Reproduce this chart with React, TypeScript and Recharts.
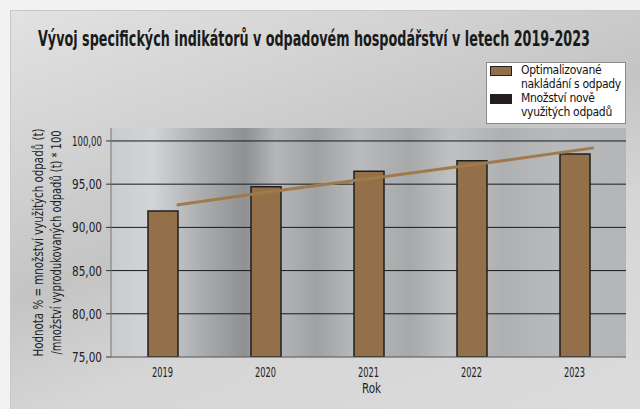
import React from 'react';
import { ComposedChart, Bar, Line, XAxis, YAxis, CartesianGrid } from 'recharts';

const years = ['2019', '2020', '2021', '2022', '2023'];
const optimizedValues = [91.9, 94.7, 96.5, 97.7, 98.5];
const trendValues = [92.6, 94.3, 95.9, 97.5, 99.2];
const yTicks = [75, 80, 85, 90, 95, 100];
const seriesNames = ['Optimalizované nakládání s odpady', 'Množství nově využitých odpadů'];
const legendLines = [['Optimalizované', 'nakládání s odpady'], ['Množství nově', 'využitých odpadů']];
const titleText = 'Vývoj specifických indikátorů v odpadovém hospodářství v letech 2019-2023';
const yLabelLines = ['Hodnota % = množství využitých odpadů (t)', '/množství vyprodukovaných odpadů  (t) * 100'];
const xLabelText = 'Rok';

const data = years.map((y, i) => ({
  year: y,
  idx: i,
  optimized: optimizedValues[i],
  trend: trendValues[i],
}));

const FONT = '"Liberation Sans Narrow", "DejaVu Sans Condensed", "Roboto Condensed", "Arial Narrow", sans-serif';

const fmt = (v: number) => v.toFixed(2).replace('.', ',');

const LegendBox = () => (
  <div
    style={{
      position: 'absolute',
      left: 486,
      top: 62,
      width: 140,
      height: 62,
      background: '#ffffff',
      border: '1px solid #8a8a8a',
      boxSizing: 'border-box',
      fontFamily: FONT,
      fontSize: 12,
      color: '#111',
      lineHeight: '14px',
    }}
  >
    <div style={{ position: 'absolute', left: 3, top: 3, width: 22, height: 10, background: '#94704a', border: '1px solid #222', boxSizing: 'border-box' }} />
    <div style={{ position: 'absolute', left: 3, top: 31, width: 22, height: 10, background: '#231f20' }} />
    <div style={{ position: 'absolute', left: 34, top: 0, width: 104, whiteSpace: 'nowrap', letterSpacing: -0.3 }}>
      {legendLines[0][0]}<br />{legendLines[0][1]}<br />{legendLines[1][0]}<br />{legendLines[1][1]}
    </div>
  </div>
);

const YLabel = (props: any) => {
  const vb = props.viewBox || {};
  const cy = (vb.y ?? 128) + (vb.height ?? 229) / 2;
  return (
    <g>
      <text x={38} y={cy} transform={`rotate(-90 38 ${cy})`} textAnchor="middle" dominantBaseline="central" fontFamily={FONT} fontSize={14} fill="#222" textLength={228} lengthAdjust="spacingAndGlyphs">
        {yLabelLines[0]}
      </text>
      <text x={56} y={cy} transform={`rotate(-90 56 ${cy})`} textAnchor="middle" dominantBaseline="central" fontFamily={FONT} fontSize={14} fill="#222" textLength={224} lengthAdjust="spacingAndGlyphs">
        {yLabelLines[1]}
      </text>
    </g>
  );
};

const YTick = (props: any) => {
  const { x, y, payload } = props;
  return (
    <text x={x} y={y} textAnchor="end" dominantBaseline="central" fontFamily={FONT} fontSize={14} fill="#222" textLength={30} lengthAdjust="spacingAndGlyphs">
      {fmt(payload.value)}
    </text>
  );
};

const XTick = (props: any) => {
  const { x, y, payload } = props;
  return (
    <text x={x} y={y + 12} textAnchor="middle" fontFamily={FONT} fontSize={14} fill="#222" textLength={21} lengthAdjust="spacingAndGlyphs">
      {payload.value}
    </text>
  );
};

const XLabel = (props: any) => {
  const vb = props.viewBox || {};
  const cx = (vb.x ?? 111) + (vb.width ?? 515) / 2;
  return (
    <text x={cx + 3} y={393} textAnchor="middle" fontFamily={FONT} fontSize={14} fill="#222" textLength={19} lengthAdjust="spacingAndGlyphs">
      {xLabelText}
    </text>
  );
};

export default function App() {
  return (
    <div
      style={{
        position: 'absolute',
        left: 0,
        top: 0,
        width: 640,
        height: 409,
        background: '#f2f2f2',
        overflow: 'hidden',
      }}
    >
      <div
        style={{
          position: 'absolute',
          left: 10,
          top: 10,
          width: 640,
          height: 409,
          background: 'linear-gradient(160deg, #e2e2e2 0%, #d2d2d2 25%, #c4c4c4 45%, #d6d6d6 65%, #dcdcdc 100%)',
          borderLeft: '1px solid #c8c8c8',
          borderTop: '1px solid #c8c8c8',
        }}
      />
      <svg style={{ position: 'absolute', left: 0, top: 0 }} width={640} height={70}>
        <text x={38} y={46} textLength={552} lengthAdjust="spacingAndGlyphs" fontFamily={FONT} fontWeight="bold" fontSize={20.5} fill="#1a1a1a">
          {titleText}
        </text>
      </svg>
      <div style={{ position: 'absolute', left: 0, top: 0 }}>
        <ComposedChart
          width={640}
          height={409}
          data={data}
          margin={{ top: 128, right: 14, bottom: 0, left: 0 }}
          barCategoryGap={0}
        >
          <defs>
            <linearGradient id="plotBg" x1="0" y1="0" x2="1" y2="0">
              <stop offset="0" stopColor="#c9cbcd" />
              <stop offset="0.08" stopColor="#d2d4d6" />
              <stop offset="0.18" stopColor="#a9abad" />
              <stop offset="0.26" stopColor="#8e9092" />
              <stop offset="0.32" stopColor="#b4b6b8" />
              <stop offset="0.40" stopColor="#9fa1a3" />
              <stop offset="0.48" stopColor="#b9bbbd" />
              <stop offset="0.58" stopColor="#a6a8aa" />
              <stop offset="0.66" stopColor="#bfc1c3" />
              <stop offset="0.76" stopColor="#aeb0b2" />
              <stop offset="0.86" stopColor="#b7b9bb" />
              <stop offset="1" stopColor="#b3b5b7" />
            </linearGradient>
          </defs>
          <CartesianGrid
            horizontal
            vertical={false}
            stroke="#1a1a1a"
            strokeWidth={1}
            fill="url(#plotBg)"
            fillOpacity={1}
            horizontalValues={[80, 85, 90, 95, 100]}
          />
          <XAxis
            xAxisId="bounds"
            type="number"
            dataKey="idx"
            domain={[-0.5, 4.5]}
            ticks={[-0.5, 0.5, 1.5, 2.5, 3.5, 4.5]}
            tick={false}
            tickLine={{ stroke: '#444' }}
            tickSize={4}
            axisLine={false}
            height={0}
          />
          <XAxis
            dataKey="year"
            xAxisId="cat"
            height={52}
            tickLine={false}
            axisLine={{ stroke: '#555', strokeWidth: 1 }}
            tick={<XTick />}
            label={<XLabel />}
          />
          <XAxis
            xAxisId="trend"
            type="number"
            dataKey="idx"
            domain={[-0.63, 4.31]}
            hide
          />
          <YAxis
            domain={[75, 101.5]}
            ticks={yTicks}
            width={111}
            tickSize={5}
            tickMargin={4}
            tickLine={{ stroke: '#333' }}
            axisLine={{ stroke: '#777' }}
            tick={<YTick />}
            allowDataOverflow
            label={<YLabel />}
          />
          <Bar
            xAxisId="cat"
            dataKey="optimized"
            name={seriesNames[0]}
            fill="#94704a"
            stroke="#1e1e1e"
            strokeWidth={1.5}
            barSize={30}
            isAnimationActive={false}
          />
          <Line
            xAxisId="trend"
            dataKey="trend"
            name={seriesNames[1]}
            stroke="#a07a4c"
            strokeWidth={3}
            dot={false}
            activeDot={false}
            isAnimationActive={false}
          />
        </ComposedChart>
      </div>
      <LegendBox />
    </div>
  );
}
